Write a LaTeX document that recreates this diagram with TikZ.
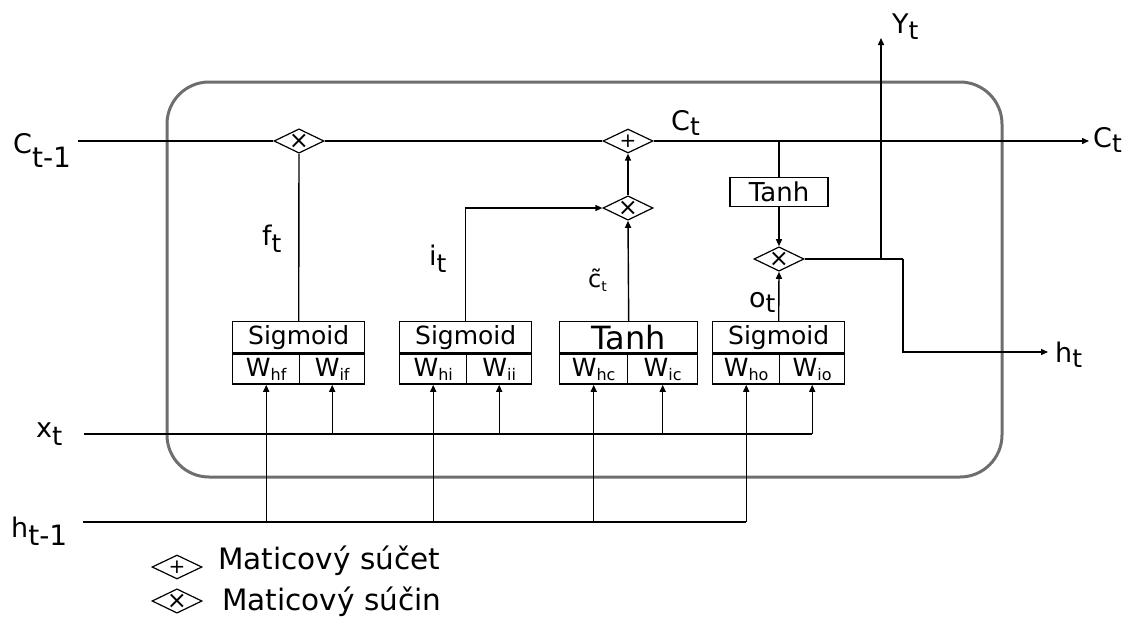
\documentclass[tikz,border=0pt]{standalone}
\usepackage{fontspec}
\setmainfont{DejaVu Sans}
\usetikzlibrary{shapes.geometric,arrows.meta,positioning}
\definecolor{cellgray}{HTML}{6E6E6E}

\newcommand{\lsub}[4][8pt]{#3\raisebox{-#1}{\fontsize{#2}{#2}\selectfont #4}}
\newcommand{\wsub}[1]{W\raisebox{-4pt}{\fontsize{16}{16}\selectfont #1}}

\tikzset{
  op/.style={draw, diamond, aspect=2, minimum width=50pt, minimum height=24pt, inner sep=0pt, line width=1.2pt, font=\fontsize{24}{24}\selectfont},
  addop/.style={op, font=\fontsize{20}{20}\selectfont},
  cell/.style={draw, line width=1.4pt, inner sep=0pt, minimum height=31pt},
  wire/.style={line width=1.4pt},
  arr/.style={wire, -{Triangle[length=7pt,width=6pt]}},
  lab/.style={inner sep=0pt, anchor=base west, font=\fontsize{27}{27}\selectfont},
}

\begin{document}
\begin{tikzpicture}[x=1pt,y=-1pt]
\useasboundingbox (0,0) rectangle (1144,619);
% cell border
\draw[cellgray, line width=3pt, rounded corners=42pt] (167,82) rectangle (1002,477);

% operators
\node[op] (fmul) at (299,141) {×};
\node[addop] (add) at (628,141) {+};
\node[op] (imul) at (628,208) {×};
\node[op] (omul) at (779,259) {×};
\node[cell, minimum width=98pt, minimum height=29pt, font=\fontsize{26}{26}\selectfont] (otanh) at (779,192) {Tanh};

% gates
\foreach \g/\xl/\wl/\wr/\fn/\fs/\hs/\is in {f/232/67/65/Sigmoid/25/hf/if, i/399/67/65/Sigmoid/25/hi/ii, c/559/68/70/Tanh/32/hc/ic, o/712/67/65/Sigmoid/25/ho/io}{
  \node[cell, minimum width=\wl pt+\wr pt, anchor=north west, font=\fontsize{\fs}{\fs}\selectfont] (\g act) at (\xl,321) {\fn};
  \node[cell, minimum width=\wl pt, minimum height=30pt, anchor=north west, font=\fontsize{25}{25}\selectfont] (\g h) at (\g act.south west) {\wsub{\hs}};
  \node[cell, minimum width=\wr pt, minimum height=30pt, anchor=north east, font=\fontsize{25}{25}\selectfont] (\g x) at (\g act.south east) {\wsub{\is}};
}

% cell state
\coordinate (cin) at (78,141);
\coordinate (cout) at (1089,141);
\draw[wire] (cin) -- (fmul.west);
\draw[wire] (fmul.east) -- (add.west);
\draw[arr] (add.east) -- (cout);
\draw[wire] (otanh.north |- add.east) -- (otanh.north);

% gate outputs
\draw[wire] (fact.north) -- (fmul.south);
\draw[arr] (iact.north) |- (imul.west);
\draw[arr] (cact.north) -- (imul.south);
\draw[arr] (imul.north) -- (add.south);
\draw[arr] (oact.north) -- (omul.south);
\draw[arr] (otanh.south) -- (omul.north);

% hidden state out
\coordinate (hbend) at (903,259);
\coordinate (hend) at (1048,352);
\coordinate (yend) at (881,38);
\draw[wire] (omul.east) -- (hbend);
\draw[arr] (hbend) |- (hend);
\draw[arr] (yend |- omul.east) -- (yend);

% inputs
\coordinate (xin) at (84,434);
\coordinate (hin) at (83,522);
\draw[wire] (xin) -- (ox.south |- xin);
\draw[wire] (hin) -- (oh.south |- hin);
\foreach \g in {f,i,c,o}{
  \draw[arr] (\g x.south |- xin) -- (\g x.south);
  \draw[arr] (\g h.south |- hin) -- (\g h.south);
}

% labels
\node[lab] (lcprev) at (13,153) {\lsub[14pt]{28}{C}{t-1}};
\node[lab] (lx) at (36,437) {\lsub{26}{x}{t}};
\node[lab] (lhprev) at (11,537) {\lsub{28}{h}{t-1}};
\node[lab] (lf) at (262,245) {\lsub[7pt]{25}{f}{t}};
\node[lab] (li) at (429,265) {\lsub[7pt]{25}{i}{t}};
\node[lab, font=\fontsize{24}{24}\selectfont] (lc) at (588,287) {\~{c}\raisebox{-4pt}{\fontsize{14}{14}\selectfont t}};
\node[lab] (lo) at (749,307) {\lsub[5pt]{25}{o}{t}};
\node[lab] (lct) at (671,130) {\lsub[5pt]{25}{C}{t}};
\node[lab] (lctout) at (1093,147) {\lsub[5pt]{25}{C}{t}};
\node[lab] (lht) at (1055,362) {\lsub[5pt]{25}{h}{t}};
\node[lab] (lyt) at (892,33) {\lsub[6pt]{25}{Y}{t}};

% legend
\node[addop] (keyadd) at (177,567) {+};
\node[op] (keymul) at (177,601) {×};
\node[lab, font=\fontsize{29.5}{30}\selectfont] (keyaddtxt) at (218,569) {Maticový súčet};
\node[lab, font=\fontsize{29.5}{30}\selectfont] (keymultxt) at (222,610) {Maticový súčin};
\end{tikzpicture}
\end{document}
